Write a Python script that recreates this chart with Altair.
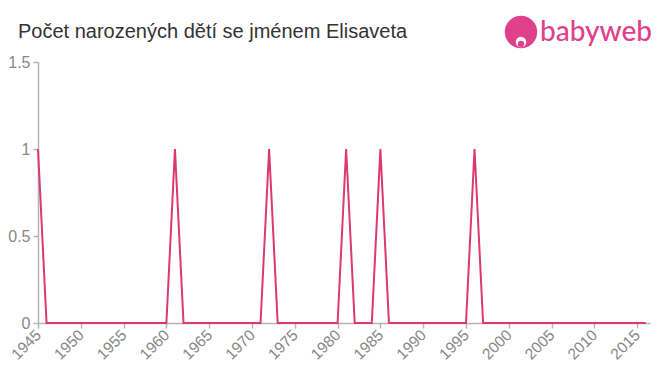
import altair as alt
import pandas as pd

years = list(range(1945, 2017))
peak_years = [1945, 1961, 1972, 1981, 1985, 1996]
counts = [1 if y in peak_years else 0 for y in years]

df = pd.DataFrame({"year": years, "count": counts})

line = alt.Chart(df).mark_line(color="#dc3a6f", strokeWidth=2, clip=False).encode(
    x=alt.X("year:Q",
            scale=alt.Scale(domain=[1945, 2016.5], nice=False, zero=False),
            axis=alt.Axis(values=list(range(1945, 2016, 5)), labelAngle=-45,
                          labelAlign="right", labelBaseline="middle",
                          labelFontSize=15.5, labelColor="#888", labelPadding=4,
                          domainColor="#b4b4b4", tickColor="#b4b4b4", tickSize=5,
                          domainWidth=1.5, tickWidth=1.5,
                          grid=False, title=None, format="d", labelFont="Liberation Sans")),
    y=alt.Y("count:Q",
            scale=alt.Scale(domain=[0, 1.5], nice=False),
            axis=alt.Axis(values=[0, 0.5, 1, 1.5], labelFontSize=16, labelColor="#888",
                          domainColor="#b4b4b4", tickColor="#b4b4b4", tickSize=5,
                          domainWidth=1.5, tickWidth=1.5, format="~g",
                          grid=False, title=None, labelPadding=3, labelFont="Liberation Sans")),
)

title = alt.Chart(pd.DataFrame({"t": ["Počet narozených dětí se jménem Elisaveta"]})).mark_text(
    align="left", baseline="alphabetic", fontSize=20, color="#333", font="Liberation Sans"
).encode(text="t:N", x=alt.value(-20), y=alt.value(-24))

logo_circle = alt.Chart(pd.DataFrame({"a": [1]})).mark_circle(
    color="#e0408a", opacity=1, size=1050
).encode(x=alt.value(483), y=alt.value(-30))
logo_face = alt.Chart(pd.DataFrame({"a": [1]})).mark_circle(
    color="white", opacity=1, size=110
).encode(x=alt.value(483), y=alt.value(-20))
logo_face2 = alt.Chart(pd.DataFrame({"a": [1]})).mark_circle(
    color="#e0408a", opacity=1, size=40
).encode(x=alt.value(483), y=alt.value(-18))
logo_text = alt.Chart(pd.DataFrame({"t": ["babyweb"]})).mark_text(
    align="left", baseline="alphabetic", fontSize=28, color="#e0408a", font="Lato", fontWeight=500
).encode(text="t:N", x=alt.value(502), y=alt.value(-21))

chart = alt.layer(line, title, logo_circle, logo_face, logo_face2, logo_text).properties(
    width=612, height=261,
    autosize=alt.AutoSizeParams(type="none"),
    padding={"left": 38, "top": 62, "right": 10, "bottom": 52},
).configure(background="white").configure_view(stroke=None)

chart.save("out.html", embed_options={"renderer": "svg", "actions": False})
